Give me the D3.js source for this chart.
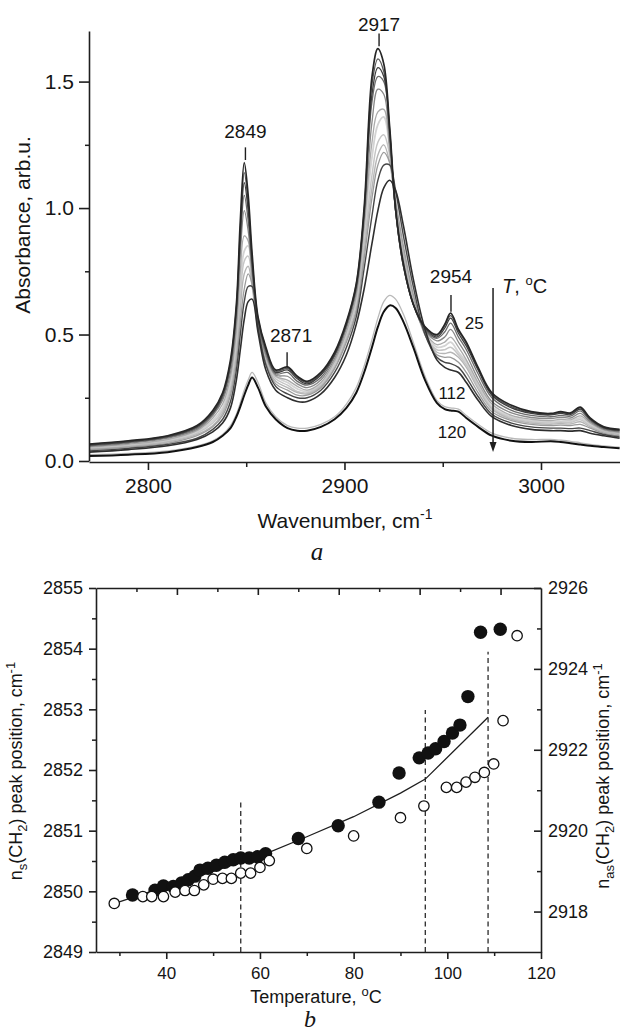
<!DOCTYPE html>
<html>
<head>
<meta charset="utf-8">
<script src="https://cdn.jsdelivr.net/npm/d3@7"></script>
<style>
body { margin: 0; background: #fff; }
svg { display: block; }
</style>
</head>
<body>
<svg></svg>
<script>
// ---------- panel a: IR spectra (absorbance vs wavenumber) ----------
let wavenumbers = [2770, 2790, 2810, 2825, 2833, 2838, 2842, 2845, 2847, 2849, 2851, 2853, 2856, 2860, 2865, 2871, 2876, 2881, 2888, 2895, 2901, 2906, 2910, 2914, 2917, 2920, 2923, 2926, 2930, 2935, 2941, 2947, 2951, 2954, 2958, 2962, 2968, 2975, 2985, 2995, 3005, 3010, 3015, 3020, 3025, 3032, 3040]

// spectra, from 25 oC (absA) upwards in temperature
let absA = [0.067, 0.08, 0.10, 0.14, 0.20, 0.27, 0.40, 0.62, 0.95, 1.18, 1.05, 0.82, 0.57, 0.45, 0.36, 0.372, 0.335, 0.315, 0.35, 0.43, 0.55, 0.70, 1.00, 1.52, 1.63, 1.57, 1.32, 1.00, 0.78, 0.62, 0.53, 0.50, 0.54, 0.585, 0.52, 0.47, 0.37, 0.27, 0.22, 0.195, 0.188, 0.195, 0.19, 0.213, 0.17, 0.135, 0.125]
let absB = [0.065, 0.078, 0.098, 0.138, 0.195, 0.265, 0.39, 0.61, 0.92, 1.14, 1.02, 0.80, 0.565, 0.445, 0.355, 0.366, 0.33, 0.31, 0.345, 0.425, 0.545, 0.70, 0.99, 1.49, 1.59, 1.54, 1.31, 0.99, 0.77, 0.62, 0.53, 0.495, 0.535, 0.575, 0.515, 0.465, 0.365, 0.265, 0.215, 0.192, 0.185, 0.192, 0.187, 0.21, 0.168, 0.133, 0.123]
let absC = [0.063, 0.076, 0.096, 0.135, 0.19, 0.26, 0.385, 0.60, 0.89, 1.10, 0.99, 0.785, 0.56, 0.44, 0.35, 0.36, 0.325, 0.305, 0.34, 0.42, 0.54, 0.69, 0.98, 1.45, 1.555, 1.52, 1.30, 0.99, 0.77, 0.62, 0.525, 0.49, 0.525, 0.565, 0.505, 0.455, 0.36, 0.26, 0.21, 0.188, 0.182, 0.188, 0.183, 0.205, 0.165, 0.131, 0.121]
let absD = [0.06, 0.073, 0.093, 0.13, 0.185, 0.25, 0.37, 0.58, 0.86, 1.05, 0.95, 0.765, 0.55, 0.43, 0.345, 0.35, 0.315, 0.30, 0.33, 0.415, 0.535, 0.68, 0.97, 1.42, 1.52, 1.50, 1.29, 0.99, 0.77, 0.62, 0.52, 0.485, 0.51, 0.545, 0.49, 0.44, 0.345, 0.25, 0.20, 0.18, 0.175, 0.18, 0.177, 0.198, 0.16, 0.128, 0.118]
let absE = [0.058, 0.07, 0.09, 0.125, 0.18, 0.24, 0.35, 0.55, 0.82, 0.99, 0.91, 0.745, 0.545, 0.42, 0.34, 0.335, 0.305, 0.29, 0.32, 0.405, 0.525, 0.67, 0.95, 1.34, 1.47, 1.45, 1.25, 0.99, 0.78, 0.62, 0.515, 0.475, 0.49, 0.52, 0.47, 0.42, 0.325, 0.235, 0.19, 0.172, 0.168, 0.173, 0.17, 0.188, 0.155, 0.125, 0.115]
let absF = [0.055, 0.066, 0.085, 0.12, 0.17, 0.225, 0.33, 0.51, 0.75, 0.89, 0.87, 0.72, 0.535, 0.41, 0.335, 0.32, 0.295, 0.28, 0.31, 0.395, 0.51, 0.65, 0.92, 1.26, 1.38, 1.39, 1.23, 1.00, 0.80, 0.63, 0.51, 0.46, 0.47, 0.49, 0.45, 0.40, 0.31, 0.225, 0.18, 0.165, 0.16, 0.165, 0.163, 0.178, 0.15, 0.122, 0.112]
let absG = [0.052, 0.063, 0.082, 0.115, 0.16, 0.21, 0.31, 0.48, 0.69, 0.83, 0.85, 0.73, 0.54, 0.41, 0.335, 0.31, 0.285, 0.275, 0.305, 0.39, 0.50, 0.64, 0.90, 1.20, 1.33, 1.36, 1.24, 1.02, 0.82, 0.64, 0.51, 0.45, 0.455, 0.47, 0.43, 0.39, 0.30, 0.215, 0.175, 0.16, 0.155, 0.158, 0.157, 0.17, 0.145, 0.12, 0.11]
let absH = [0.05, 0.06, 0.078, 0.11, 0.15, 0.20, 0.29, 0.45, 0.65, 0.79, 0.81, 0.71, 0.53, 0.40, 0.325, 0.30, 0.275, 0.27, 0.30, 0.38, 0.49, 0.62, 0.86, 1.13, 1.26, 1.29, 1.21, 1.01, 0.82, 0.64, 0.50, 0.44, 0.44, 0.45, 0.42, 0.38, 0.295, 0.21, 0.17, 0.155, 0.15, 0.153, 0.152, 0.163, 0.14, 0.118, 0.108]
let absI = [0.048, 0.058, 0.075, 0.105, 0.14, 0.19, 0.275, 0.42, 0.60, 0.74, 0.77, 0.69, 0.52, 0.39, 0.315, 0.29, 0.27, 0.265, 0.295, 0.37, 0.48, 0.60, 0.83, 1.08, 1.21, 1.25, 1.18, 1.01, 0.83, 0.65, 0.50, 0.43, 0.425, 0.43, 0.41, 0.37, 0.285, 0.205, 0.165, 0.15, 0.145, 0.148, 0.146, 0.155, 0.135, 0.115, 0.105]
let absJ = [0.045, 0.055, 0.07, 0.10, 0.135, 0.18, 0.26, 0.39, 0.55, 0.68, 0.74, 0.70, 0.52, 0.385, 0.305, 0.28, 0.26, 0.26, 0.29, 0.365, 0.47, 0.59, 0.80, 1.04, 1.17, 1.22, 1.18, 1.03, 0.85, 0.66, 0.50, 0.42, 0.41, 0.41, 0.39, 0.35, 0.27, 0.195, 0.16, 0.145, 0.14, 0.142, 0.14, 0.145, 0.13, 0.11, 0.10]
let absK = [0.04, 0.05, 0.065, 0.09, 0.125, 0.165, 0.235, 0.36, 0.50, 0.63, 0.69, 0.69, 0.53, 0.38, 0.295, 0.265, 0.25, 0.25, 0.28, 0.35, 0.45, 0.57, 0.76, 0.97, 1.11, 1.17, 1.17, 1.07, 0.89, 0.69, 0.50, 0.41, 0.39, 0.385, 0.37, 0.33, 0.255, 0.185, 0.15, 0.135, 0.13, 0.13, 0.128, 0.13, 0.12, 0.105, 0.095]
let absL = [0.035, 0.045, 0.06, 0.085, 0.115, 0.15, 0.21, 0.32, 0.44, 0.56, 0.63, 0.64, 0.51, 0.36, 0.28, 0.25, 0.235, 0.235, 0.265, 0.33, 0.42, 0.54, 0.68, 0.86, 0.99, 1.08, 1.11, 1.07, 0.93, 0.72, 0.52, 0.40, 0.37, 0.36, 0.35, 0.31, 0.24, 0.175, 0.14, 0.125, 0.12, 0.12, 0.118, 0.12, 0.11, 0.10, 0.09]
let abs112 = [0.025, 0.03, 0.04, 0.06, 0.08, 0.105, 0.14, 0.185, 0.23, 0.28, 0.32, 0.35, 0.31, 0.23, 0.175, 0.14, 0.13, 0.13, 0.145, 0.175, 0.225, 0.29, 0.375, 0.48, 0.565, 0.63, 0.655, 0.64, 0.58, 0.47, 0.335, 0.24, 0.215, 0.21, 0.205, 0.18, 0.145, 0.11, 0.09, 0.085, 0.085, 0.082, 0.078, 0.072, 0.066, 0.06, 0.055]
let abs120 = [0.02, 0.025, 0.035, 0.055, 0.075, 0.10, 0.13, 0.175, 0.215, 0.26, 0.30, 0.33, 0.29, 0.215, 0.165, 0.13, 0.12, 0.12, 0.135, 0.165, 0.21, 0.27, 0.35, 0.45, 0.53, 0.59, 0.615, 0.605, 0.55, 0.45, 0.32, 0.23, 0.205, 0.20, 0.195, 0.17, 0.135, 0.10, 0.08, 0.075, 0.078, 0.075, 0.07, 0.065, 0.06, 0.055, 0.05]

// peak annotations
let peakNames = ['2849', '2871', '2917', '2954']
let peakWn = [2849.6, 2870.8, 2917.6, 2954.2]
let peakAbs = [1.19, 0.37, 1.64, 0.59]
let leaderEnd = [1.24, 0.43, 1.69, 0.656]
let labelAbs = [1.277, 0.47, 1.70, 0.704]

// temperature labels on the spectra
let tempNames = ['25', '112', '120']
let tempWn = [2966, 2954.7, 2954.7]
let tempAbs = [0.522, 0.245, 0.091]

// ---------- panel b: peak positions vs temperature ----------
// filled circles: nu_s(CH2), left axis
let tempS = [32.8, 37.6, 39.4, 41.5, 43.3, 44.7, 46.1, 47.2, 48.9, 50.7, 52.5, 54.3, 55.9, 57.7, 59.5, 61.2, 68.2, 76.7, 85.4, 89.7, 94.0, 95.9, 97.5, 99.3, 101.1, 102.7, 104.4, 107.1, 111.3]
let nuS = [2849.94, 2850.02, 2850.09, 2850.08, 2850.14, 2850.19, 2850.25, 2850.35, 2850.38, 2850.43, 2850.48, 2850.52, 2850.55, 2850.55, 2850.57, 2850.62, 2850.87, 2851.08, 2851.47, 2851.95, 2852.20, 2852.28, 2852.35, 2852.47, 2852.61, 2852.74, 2853.21, 2854.27, 2854.32]
// open circles: nu_as(CH2), right axis
let tempAs = [28.9, 35.0, 36.9, 39.4, 41.9, 44.0, 46.0, 48.0, 50.0, 52.0, 53.9, 55.9, 58.0, 60.0, 62.0, 70.0, 80.0, 90.0, 95.0, 99.8, 102.0, 104.0, 105.9, 107.9, 109.9, 111.9, 114.9]
let nuAs = [2918.20, 2918.37, 2918.37, 2918.37, 2918.48, 2918.52, 2918.52, 2918.66, 2918.80, 2918.82, 2918.82, 2918.95, 2918.95, 2919.09, 2919.26, 2919.56, 2919.87, 2920.32, 2920.61, 2921.07, 2921.07, 2921.20, 2921.32, 2921.44, 2921.65, 2922.72, 2924.82]
// solid guide line (left axis units)
let fitT = [29, 40, 50, 60, 70, 80, 90, 95.3, 108.7]
let fitNu = [2849.80, 2850.08, 2850.33, 2850.58, 2850.90, 2851.23, 2851.62, 2851.85, 2852.87]
// dashed transition markers
let transT = [55.9, 95.3, 108.7]
let transTop = [2851.47, 2852.99, 2853.95]

// canvas
let width = 620
let height = 1035
let font = "'Liberation Sans', Arial, sans-serif"
let serif = "'Liberation Serif', 'DejaVu Serif', serif"

let svg = d3.select('svg')
    .attr('width', width)
    .attr('height', height)
    .attr('font-family', font)

svg.append('rect').attr('width', width).attr('height', height).attr('fill', '#fff')

let styleAxis = (g, size) => {
    g.attr('font-family', font).attr('font-size', size)
    g.selectAll('path, line').attr('stroke', '#1e1e1e').attr('stroke-width', 1.6)
    g.selectAll('text').attr('fill', '#151515')
}

let minorTicks = (axis, at) => {
    let g = svg.append('g').attr('transform', at).call(axis.tickFormat(''))
    g.select('.domain').remove()
    g.selectAll('line').attr('stroke', '#1e1e1e').attr('stroke-width', 1.5)
}

// ================= panel a =================
let xA = d3.scaleLinear().domain([2770, 3040]).range([89, 619.6])
let yA = d3.scaleLinear().domain([0, 1.7]).range([461, 31])

svg.append('clipPath').attr('id', 'clipA')
    .append('rect').attr('x', 89).attr('y', 20).attr('width', 531).attr('height', 441)

let spectra = [
    [absG, '#d3d3d3', 1.8], [absH, '#c6c6c6', 1.5], [absI, '#b6b6b6', 1.4], [absF, '#ababab', 1.3],
    [absJ, '#9b9b9b', 1.3], [absE, '#888888', 1.3], [absD, '#6b6b6b', 1.3], [absB, '#575757', 1.3],
    [absC, '#3c3c3c', 1.3], [absK, '#474747', 1.4], [absL, '#2e2e2e', 1.6], [absA, '#262626', 1.7],
    [abs112, '#b9b9b9', 1.3], [abs120, '#111111', 2.0]
]

let specLine = d3.line()
    .x((d, i) => xA(wavenumbers[i]))
    .y(d => yA(d))
    .curve(d3.curveCatmullRom.alpha(0.5))

svg.append('g').attr('clip-path', 'url(#clipA)')
    .selectAll('path')
    .data(spectra)
    .enter()
    .append('path')
    .attr('d', d => specLine(d[0]))
    .attr('fill', 'none')
    .attr('stroke', d => d[1])
    .attr('stroke-width', d => d[2])
    .attr('stroke-linejoin', 'round')

// axes a
let axA_left = svg.append('g').attr('transform', 'translate(89,0)')
    .call(d3.axisLeft(yA).tickValues([0, 0.5, 1.0, 1.5]).tickFormat(d3.format('.1f')).tickSize(10).tickPadding(5).tickSizeOuter(0))
styleAxis(axA_left, 21)
minorTicks(d3.axisLeft(yA).tickValues([0.25, 0.75, 1.25]).tickSize(4), 'translate(89,0)')

let axA_bottom = svg.append('g').attr('transform', 'translate(0,462)')
    .call(d3.axisBottom(xA).tickValues([2800, 2900, 3000]).tickFormat(d3.format('d')).tickSize(8).tickPadding(8).tickSizeOuter(0))
styleAxis(axA_bottom, 21)
minorTicks(d3.axisBottom(xA).tickValues([2850, 2950]).tickSize(5), 'translate(0,462)')

svg.append('text')
    .attr('transform', 'translate(30,225) rotate(-90)')
    .attr('text-anchor', 'middle').attr('font-size', 21).attr('fill', '#151515')
    .text('Absorbance, arb.u.')

let xTitleA = svg.append('text')
    .attr('x', 345).attr('y', 528)
    .attr('text-anchor', 'middle').attr('font-size', 21).attr('fill', '#151515')
xTitleA.append('tspan').text('Wavenumber, cm')
xTitleA.append('tspan').attr('font-size', 14).attr('dy', -9).text('-1')

// peak labels with leaders
peakNames.forEach((name, i) => {
    svg.append('line')
        .attr('x1', xA(peakWn[i])).attr('x2', xA(peakWn[i]))
        .attr('y1', yA(peakAbs[i])).attr('y2', yA(leaderEnd[i]))
        .attr('stroke', '#1e1e1e').attr('stroke-width', 1.4)
    svg.append('text')
        .attr('x', xA(peakWn[i]) + (i === 1 ? 4 : 0)).attr('y', yA(labelAbs[i]))
        .attr('text-anchor', 'middle').attr('font-size', 19).attr('fill', '#151515')
        .text(name)
})

tempNames.forEach((name, i) => {
    svg.append('text')
        .attr('x', xA(tempWn[i])).attr('y', yA(tempAbs[i]))
        .attr('text-anchor', 'middle').attr('font-size', 17).attr('fill', '#151515')
        .text(name)
})

// temperature arrow
let arrowX = xA(2975.6)
let arrowY1 = yA(0.684)
let arrowY2 = yA(0.036)
svg.append('line')
    .attr('x1', arrowX).attr('x2', arrowX).attr('y1', arrowY1).attr('y2', arrowY2 - 6)
    .attr('stroke', '#1e1e1e').attr('stroke-width', 1.5)
svg.append('path')
    .attr('d', `M${arrowX - 3.5},${arrowY2 - 10} L${arrowX + 3.5},${arrowY2 - 10} L${arrowX},${arrowY2} Z`)
    .attr('fill', '#1e1e1e')

let tLabel = svg.append('text')
    .attr('x', xA(2980.2)).attr('y', yA(0.664))
    .attr('font-size', 20).attr('fill', '#151515')
tLabel.append('tspan').attr('font-style', 'italic').text('T')
tLabel.append('tspan').text(', ')
tLabel.append('tspan').attr('font-size', 13).attr('dy', -8).text('o')
tLabel.append('tspan').attr('dy', 8).text('C')

svg.append('text')
    .attr('x', 317).attr('y', 560)
    .attr('text-anchor', 'middle').attr('font-family', serif).attr('font-style', 'italic')
    .attr('font-size', 25).attr('fill', '#151515')
    .text('a')

// ================= panel b =================
let xB = d3.scaleLinear().domain([25, 120]).range([96, 541])
let yL = d3.scaleLinear().domain([2849, 2855]).range([952, 588])
let yR = d3.scaleLinear().domain([2917, 2926]).range([952, 588])
let xTop = d3.scaleLinear().domain([0, 11]).range([96, 541])

// dashed transition lines
svg.append('g')
    .selectAll('line')
    .data(transT)
    .enter()
    .append('line')
    .attr('x1', d => xB(d)).attr('x2', d => xB(d))
    .attr('y1', yL(2849)).attr('y2', (d, i) => yL(transTop[i]))
    .attr('stroke', '#2a2a2a').attr('stroke-width', 1.3)
    .attr('stroke-dasharray', '5,3.5')

// guide line
let fitLine = d3.line()
    .x((d, i) => xB(fitT[i]))
    .y(d => yL(d))
svg.append('path')
    .attr('d', fitLine(fitNu))
    .attr('fill', 'none').attr('stroke', '#1e1e1e').attr('stroke-width', 1.3)

// filled circles
svg.append('g')
    .selectAll('circle')
    .data(nuS)
    .enter()
    .append('circle')
    .attr('cx', (d, i) => xB(tempS[i]))
    .attr('cy', d => yL(d))
    .attr('r', 6.7)
    .attr('fill', '#111')

// open circles
svg.append('g')
    .selectAll('circle')
    .data(nuAs)
    .enter()
    .append('circle')
    .attr('cx', (d, i) => xB(tempAs[i]))
    .attr('cy', d => yR(d))
    .attr('r', 5.2)
    .attr('fill', '#fff')
    .attr('stroke', '#111')
    .attr('stroke-width', 1.3)

// axes b
let axB_left = svg.append('g').attr('transform', 'translate(96,0)')
    .call(d3.axisLeft(yL).tickValues([2849, 2850, 2851, 2852, 2853, 2854, 2855]).tickFormat(d3.format('d')).tickSize(7).tickPadding(6).tickSizeOuter(0))
styleAxis(axB_left, 18)
minorTicks(d3.axisLeft(yL).tickValues([2849.5, 2850.5, 2851.5, 2852.5, 2853.5, 2854.5]).tickSize(4), 'translate(96,0)')

let axB_right = svg.append('g').attr('transform', 'translate(541,0)')
    .call(d3.axisRight(yR).tickValues([2918, 2920, 2922, 2924, 2926]).tickFormat(d3.format('d')).tickSize(-7).tickPadding(7).tickSizeOuter(0))
styleAxis(axB_right, 18)
minorTicks(d3.axisRight(yR).tickValues([2919, 2921, 2923, 2925]).tickSize(-4), 'translate(541,0)')

let axB_bottom = svg.append('g').attr('transform', 'translate(0,952)')
    .call(d3.axisBottom(xB).tickValues([40, 60, 80, 100, 120]).tickFormat(d3.format('d')).tickSize(7).tickPadding(8).tickSizeOuter(0))
styleAxis(axB_bottom, 17)
minorTicks(d3.axisBottom(xB).tickValues([30, 50, 70, 90, 110]).tickSize(4), 'translate(0,952)')

let axB_top = svg.append('g').attr('transform', 'translate(0,588)')
    .call(d3.axisTop(xTop).tickValues([2, 4, 6, 8, 10]).tickFormat('').tickSize(-7).tickSizeOuter(0))
styleAxis(axB_top, 17)
minorTicks(d3.axisTop(xTop).tickValues([1, 3, 5, 7, 9]).tickSize(-4), 'translate(0,588)')

// axis titles b
let leftTitle = svg.append('text')
    .attr('transform', 'translate(22,771) rotate(-90)')
    .attr('text-anchor', 'middle').attr('font-size', 18).attr('fill', '#151515')
leftTitle.append('tspan').text('n')
leftTitle.append('tspan').attr('font-size', 13).attr('dy', 5).text('s')
leftTitle.append('tspan').attr('dy', -5).text('(CH')
leftTitle.append('tspan').attr('font-size', 13).attr('dy', 5).text('2')
leftTitle.append('tspan').attr('dy', -5).text(') peak position, cm')
leftTitle.append('tspan').attr('font-size', 13).attr('dy', -7).text('-1')

let rightTitle = svg.append('text')
    .attr('transform', 'translate(609,776) rotate(-90)')
    .attr('text-anchor', 'middle').attr('font-size', 18).attr('fill', '#151515')
rightTitle.append('tspan').text('n')
rightTitle.append('tspan').attr('font-size', 13).attr('dy', 5).text('as')
rightTitle.append('tspan').attr('dy', -5).text('(CH')
rightTitle.append('tspan').attr('font-size', 13).attr('dy', 5).text('2')
rightTitle.append('tspan').attr('dy', -5).text(') peak position, cm')
rightTitle.append('tspan').attr('font-size', 13).attr('dy', -7).text('-1')

let xTitleB = svg.append('text')
    .attr('x', 316).attr('y', 1003)
    .attr('text-anchor', 'middle').attr('font-size', 18).attr('fill', '#151515')
xTitleB.append('tspan').text('Temperature, ')
xTitleB.append('tspan').attr('font-size', 13).attr('dy', -7).text('o')
xTitleB.append('tspan').attr('dy', 7).text('C')

svg.append('text')
    .attr('x', 310).attr('y', 1027)
    .attr('text-anchor', 'middle').attr('font-family', serif).attr('font-style', 'italic')
    .attr('font-size', 24).attr('fill', '#151515')
    .text('b')
</script>
</body>
</html>
